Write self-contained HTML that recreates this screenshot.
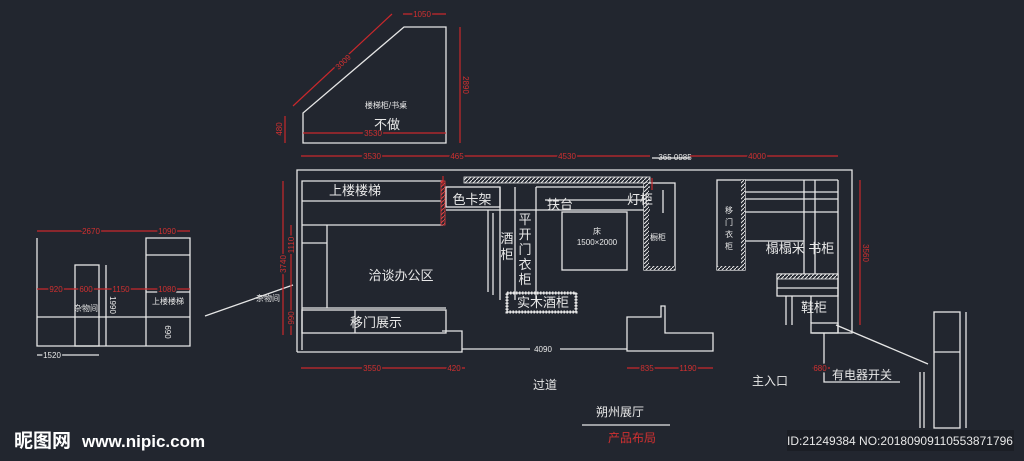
<!DOCTYPE html>
<html><head><meta charset="utf-8"><style>
html,body{margin:0;padding:0;background:#22262f;}
svg{display:block}
text{font-family:"Liberation Sans","Noto Sans CJK SC",sans-serif;}
.bg{paint-order:stroke;stroke:#22262f;stroke-width:3px;}
</style></head><body>
<svg width="1024" height="461" viewBox="0 0 1024 461" xmlns="http://www.w3.org/2000/svg">
<defs>
<pattern id="hr" width="4" height="4" patternUnits="userSpaceOnUse"><rect width="4" height="4" fill="#22262f"/><path d="M0 4L4 0" stroke="#e04040" stroke-width="1"/></pattern>
<pattern id="hw" width="4" height="4" patternUnits="userSpaceOnUse"><rect width="4" height="4" fill="#22262f"/><path d="M0 4L4 0" stroke="#e8e8e8" stroke-width="1"/></pattern>
</defs>
<rect width="1024" height="461" fill="#22262f"/>
<g stroke="#e6e6e6" stroke-width="1.3" fill="none">
<polygon points="303,143 303,113 404,27 446,27 446,143"/>
<polyline points="297,352 297,170 852,170 852,333 812,333"/>
<polyline points="297,352 462,352 462,331 442,331"/>
<line x1="462" y1="349" x2="530" y2="349"/><line x1="560" y1="349" x2="627" y2="349"/>
<polygon points="627,351 627,317 661,317 661,306 665,306 665,333 713,333 713,351"/>
<polyline points="302,350 302,181 443,181"/>
<line x1="302" y1="201" x2="443" y2="201"/>
<line x1="302" y1="225" x2="443" y2="225"/>
<line x1="327" y1="225" x2="327" y2="308"/>
<line x1="302" y1="243" x2="327" y2="243"/>
<line x1="302" y1="308" x2="446" y2="308"/>
<rect x="302" y="310" width="144" height="23"/>
<line x1="355" y1="310" x2="355" y2="333"/>
<rect x="446" y="187" width="54" height="20"/>
<line x1="446" y1="210" x2="650" y2="210"/>
<line x1="500" y1="187" x2="500" y2="300"/>
<line x1="515" y1="187" x2="515" y2="300"/>
<line x1="536" y1="187" x2="536" y2="300"/>
<line x1="488" y1="210" x2="488" y2="292"/>
<line x1="493" y1="213" x2="493" y2="295"/>
<rect x="562" y="212" width="65" height="58"/>
<line x1="536" y1="187" x2="650" y2="187"/>
<line x1="545" y1="200" x2="650" y2="200"/>
<rect x="507" y="293" width="69" height="19"/>
<rect x="644" y="183" width="31" height="87"/>
<line x1="663" y1="190" x2="663" y2="213"/>
<rect x="717" y="180" width="28" height="90"/>
<line x1="745" y1="192" x2="838" y2="192"/>
<line x1="745" y1="199" x2="838" y2="199"/>
<line x1="745" y1="212" x2="838" y2="212"/>
<line x1="745" y1="241" x2="804" y2="241"/>
<line x1="804" y1="180" x2="804" y2="274"/>
<line x1="815" y1="180" x2="815" y2="274"/>
<line x1="838" y1="180" x2="838" y2="333"/>
<line x1="745" y1="180" x2="838" y2="180"/>
<rect x="777" y="274" width="61" height="22"/>
<line x1="777" y1="288" x2="838" y2="288"/>
<line x1="811" y1="296" x2="811" y2="323"/>
<line x1="786" y1="296" x2="786" y2="325"/>
<line x1="792" y1="296" x2="792" y2="325"/>
<rect x="811" y="323" width="27" height="10"/>
<polyline points="824,333 824,382 900,382"/>
<line x1="836" y1="325" x2="928" y2="364"/>
<rect x="934" y="312" width="26" height="116"/>
<line x1="934" y1="352" x2="960" y2="352"/>
<line x1="966" y1="312" x2="966" y2="428"/>
<line x1="924" y1="372" x2="924" y2="428"/>
<line x1="920" y1="372" x2="920" y2="428"/>
<polyline points="37,238 37,346 190,346 190,238 146,238 146,346"/>
<line x1="146" y1="255" x2="190" y2="255"/>
<line x1="146" y1="292" x2="190" y2="292"/>
<line x1="37" y1="317" x2="190" y2="317"/>
<rect x="75" y="265" width="24" height="81"/>
<line x1="106" y1="265" x2="106" y2="346"/>
<line x1="37" y1="355" x2="99" y2="355"/>
<line x1="205" y1="316" x2="293" y2="285"/>
<line x1="582" y1="425" x2="670" y2="425"/>
<line x1="652" y1="158" x2="690" y2="158"/>
</g>
<rect x="441" y="181" width="4" height="44" fill="url(#hr)" stroke="#e04040" stroke-width="0.8"/>
<rect x="464" y="177" width="186" height="6" fill="url(#hw)" stroke="#e6e6e6" stroke-width="0.8"/>
<rect x="644" y="183" width="5" height="87" fill="url(#hw)"/>
<rect x="644" y="266" width="31" height="4" fill="url(#hw)"/>
<rect x="741" y="180" width="4" height="90" fill="url(#hw)"/>
<rect x="717" y="266" width="28" height="4" fill="url(#hw)"/>
<rect x="777" y="274" width="61" height="5" fill="url(#hw)" stroke="#e6e6e6" stroke-width="0.8"/>
<rect x="507" y="293" width="69" height="19" fill="none" stroke="#e6e6e6" stroke-width="3" stroke-dasharray="1.5 1.5"/>
<g stroke="#c8282c" stroke-width="1.2" fill="none">
<line x1="293" y1="106" x2="392" y2="14"/>
<line x1="403" y1="14" x2="446" y2="14"/>
<line x1="460" y1="27" x2="460" y2="143"/>
<line x1="285" y1="116" x2="285" y2="143"/>
<line x1="303" y1="133" x2="446" y2="133"/>
<line x1="301" y1="156" x2="650" y2="156"/>
<line x1="690" y1="156" x2="838" y2="156"/>
<line x1="37" y1="231" x2="190" y2="231"/>
<line x1="37" y1="289" x2="190" y2="289"/>
<line x1="283" y1="181" x2="283" y2="335"/>
<line x1="291" y1="225" x2="291" y2="335"/>
<line x1="860" y1="180" x2="860" y2="325"/>
<line x1="301" y1="368" x2="465" y2="368"/>
<line x1="627" y1="368" x2="713" y2="368"/>
<line x1="812" y1="368" x2="830" y2="368"/>
<line x1="443" y1="176" x2="443" y2="186"/><line x1="652" y1="178" x2="652" y2="190"/>
</g>
<g fill="#d03030" font-size="8" text-anchor="middle" class="bg">
<text x="422" y="17">1050</text><text x="373" y="136">3530</text>
<text x="372" y="159">3530</text><text x="457" y="159">465</text><text x="567" y="159">4530</text><text x="757" y="159">4000</text>
<text x="91" y="234">2670</text><text x="167" y="234">1090</text>
<text x="56" y="292">920</text><text x="86" y="292">600</text><text x="121" y="292">1150</text><text x="167" y="292">1080</text>
<text x="372" y="371">3550</text><text x="454" y="371">420</text><text x="647" y="371">835</text><text x="688" y="371">1190</text><text x="820" y="371">680</text>
<text transform="translate(463,85) rotate(90)">2890</text>
<text transform="translate(282,129) rotate(-90)">480</text>
<text transform="translate(286,264) rotate(-90)">3740</text>
<text transform="translate(294,245) rotate(-90)">1110</text>
<text transform="translate(294,318) rotate(-90)">990</text>
<text transform="translate(863,253) rotate(90)">3560</text>
<text transform="translate(345,64) rotate(-43)">3009</text>
</g>
<text x="632" y="442" fill="#d03030" font-size="12" text-anchor="middle">产品布局</text>
<g fill="#e8e8e8" text-anchor="middle">
<text x="386" y="108" font-size="8">楼梯柜/书桌</text>
<text x="387" y="129" font-size="13">不做</text>
<text x="675" y="160" font-size="8">365 0985</text>
<text x="355" y="195" font-size="13">上楼楼梯</text>
<text x="472" y="204" font-size="13">色卡架</text>
<text x="560" y="209" font-size="13">扶台</text>
<text x="640" y="204" font-size="13">灯柜</text>
<text x="597" y="234" font-size="8">床</text>
<text x="597" y="245" font-size="8">1500×2000</text>
<text x="658" y="240" font-size="8">橱柜</text>
<text x="401" y="280" font-size="13">洽谈办公区</text>
<text x="376" y="327" font-size="13">移门展示</text>
<text x="543" y="307" font-size="13">实木酒柜</text>
<text x="86" y="311" font-size="8">杂物间</text>
<text x="168" y="304" font-size="8">上楼楼梯</text>
<text x="268" y="301" font-size="8">杂物间</text>
<text x="800" y="253" font-size="13">榻榻米 书柜</text>
<text x="814" y="312" font-size="13">鞋柜</text>
<text x="862" y="379" font-size="12">有电器开关</text>
<text x="545" y="389" font-size="12">过道</text>
<text x="770" y="385" font-size="12">主入口</text>
<text x="620" y="416" font-size="12">朔州展厅</text>
<text x="543" y="352" font-size="8" class="bg">4090</text>
<text x="52" y="358" font-size="8" class="bg">1520</text>
<text transform="translate(110,305) rotate(90)" font-size="8">1990</text>
<text transform="translate(165,332) rotate(90)" font-size="8">690</text>
</g>
<g fill="#e8e8e8" font-size="13" text-anchor="middle">
<text x="507" y="243">酒</text><text x="507" y="259">柜</text>
<text x="525" y="224">平</text><text x="525" y="239">开</text><text x="525" y="254">门</text><text x="525" y="269">衣</text><text x="525" y="284">柜</text>
</g>
<g fill="#e8e8e8" font-size="8" text-anchor="middle">
<text x="729" y="213">移</text><text x="729" y="225">门</text><text x="729" y="237">衣</text><text x="729" y="249">柜</text>
</g>
<text x="14" y="447" fill="#ffffff" font-size="19" font-weight="bold" font-family="'Noto Sans CJK SC',sans-serif">昵图网</text>
<text x="82" y="447" fill="#ffffff" font-size="17" font-weight="bold">www.nipic.com</text>
<rect x="787" y="430" width="227" height="21" fill="#1b1e25"/>
<text x="900" y="445" fill="#e8e8e8" font-size="12" text-anchor="middle">ID:21249384 NO:20180909110553871796</text>
</svg>
</body></html>
